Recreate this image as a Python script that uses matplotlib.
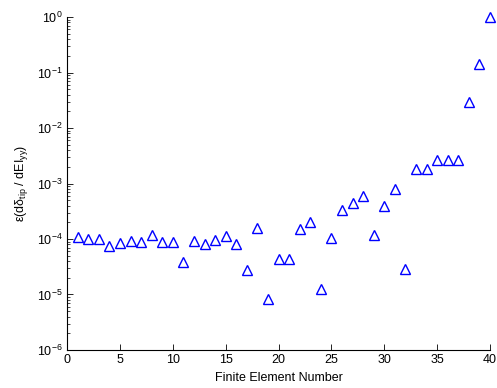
import matplotlib
matplotlib.use("Agg")
import matplotlib.pyplot as plt
from matplotlib.ticker import LogLocator, NullFormatter

plt.rcParams['font.family'] = ['Liberation Sans', 'DejaVu Sans']
plt.rcParams['mathtext.fontset'] = 'custom'
plt.rcParams['mathtext.rm'] = 'Liberation Sans'
plt.rcParams['mathtext.it'] = 'Liberation Sans:italic'

# Element index and sensitivity error of tip deflection w.r.t. EI_yy
elements = list(range(1, 41))
errors = [
    1.1e-4, 1.02e-4, 0.98e-4, 0.75e-4, 0.85e-4, 0.93e-4, 0.9e-4, 1.2e-4, 0.9e-4, 0.9e-4,
    3.8e-5, 0.93e-4, 0.8e-4, 0.95e-4, 1.12e-4, 0.8e-4, 2.8e-5, 1.6e-4, 8.2e-6, 4.3e-5,
    4.3e-5, 1.5e-4, 2.05e-4, 1.25e-5, 1.03e-4, 3.3e-4, 4.4e-4, 6.0e-4, 1.2e-4, 4.0e-4,
    8.0e-4, 2.9e-5, 1.85e-3, 1.8e-3, 2.7e-3, 2.7e-3, 2.7e-3, 2.9e-2, 0.14, 1.0,
]
x_ticks = [0, 5, 10, 15, 20, 25, 30, 35, 40]

fig = plt.figure(figsize=(4.97, 3.88), dpi=100)
ax = fig.add_axes([0.135, 0.098, 0.851, 0.858])

ax.semilogy(elements, errors, linestyle='none', marker='^', markersize=7.5,
            markerfacecolor='none', markeredgecolor='#0000ff', markeredgewidth=1.0,
            clip_on=False)

ax.set_xlim(0, 40)
ax.set_ylim(1e-6, 1e0)
ax.set_xticks(x_ticks)
ax.yaxis.set_major_locator(LogLocator(base=10, numticks=10))
ax.yaxis.set_minor_locator(LogLocator(base=10, subs=range(2, 10), numticks=20))
ax.yaxis.set_minor_formatter(NullFormatter())

for side in ('top', 'right'):
    ax.spines[side].set_visible(False)
for side in ('left', 'bottom'):
    ax.spines[side].set_linewidth(0.8)

ax.tick_params(which='major', direction='in', length=4, width=0.6, labelsize=9, pad=3)
ax.tick_params(which='minor', direction='in', length=2, width=0.5)
ax.tick_params(top=False, right=False)

ax.set_xlabel('Finite Element Number', fontsize=9, labelpad=4)
ax.set_ylabel(r'ε(dδ$_{\mathrm{tip}}$ / dEI$_{\mathrm{yy}}$)', fontsize=9, labelpad=5)

fig.savefig('out.png', dpi=100)
